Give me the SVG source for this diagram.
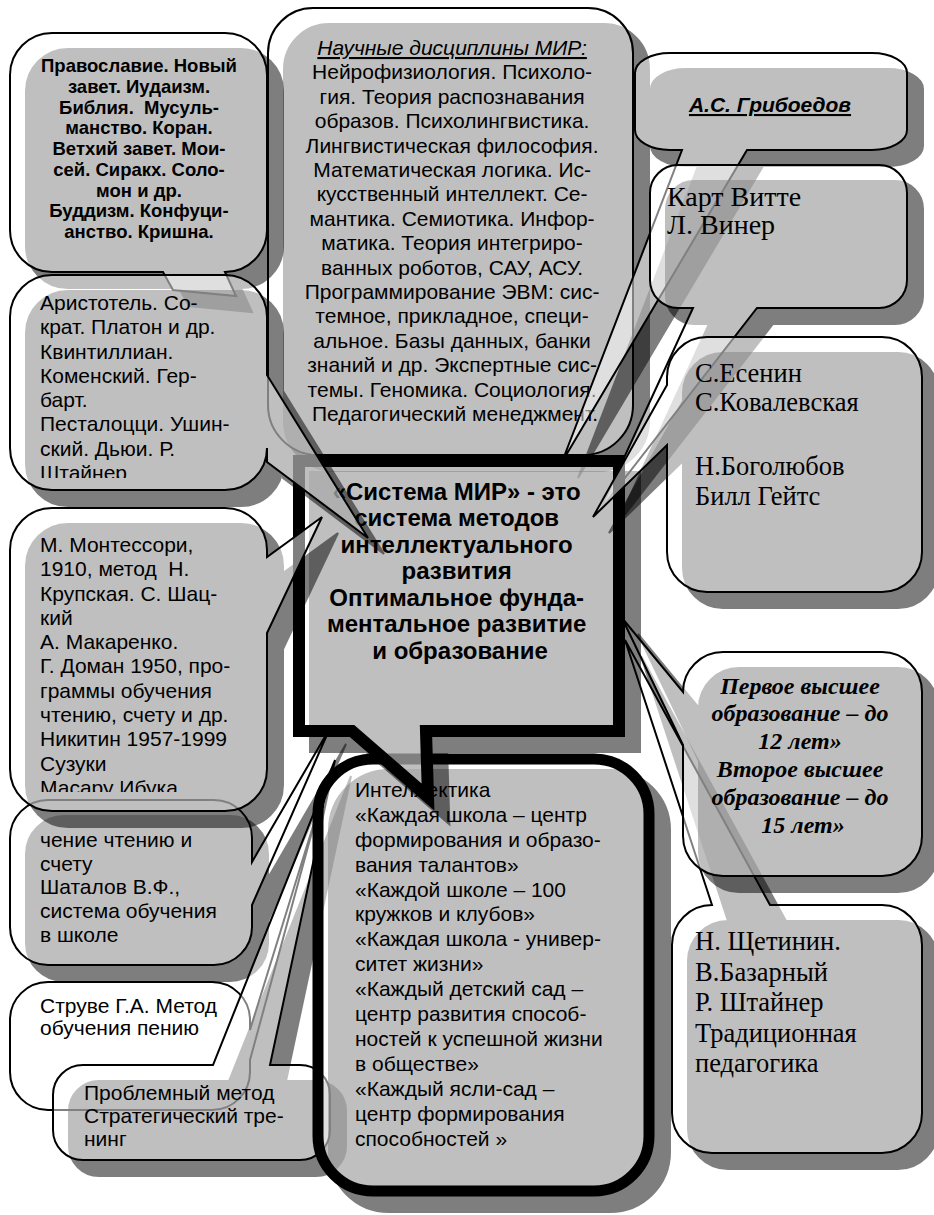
<svg xmlns="http://www.w3.org/2000/svg" xmlns:xlink="http://www.w3.org/1999/xlink" width="934" height="1215" viewBox="0 0 934 1215">
<style>
.sh{fill:#000;stroke:#000;stroke-width:2;opacity:.5}
.shT{fill:#000;stroke:#000;stroke-width:12;opacity:.5;stroke-linejoin:miter}
.bx{fill:#fff;fill-opacity:.5;stroke:#000;stroke-width:2;stroke-linejoin:miter}
.bxT{fill:#fff;fill-opacity:.5;stroke:#000;stroke-width:12;stroke-linejoin:miter}
.wh{fill:#fff;stroke:#000;stroke-width:2}
.a{font-family:"Liberation Sans",Arial,sans-serif;font-size:21px;fill:#000}
.ab{font-family:"Liberation Sans",Arial,sans-serif;font-weight:bold;fill:#000}
.tr{font-family:"Liberation Serif","Times New Roman",serif;font-size:26.5px;fill:#000}
.tbi{font-family:"Liberation Serif","Times New Roman",serif;font-size:24px;font-weight:bold;font-style:italic;fill:#000}
</style>
<defs>
<path id="pS" d="M313,8 H588 A45,45 0 0 1 633,53 V405 A50,50 0 0 1 583,455 H318 A50,50 0 0 1 268,405 V53 A45,45 0 0 1 313,8 Z"/>
<path id="pA" d="M52,33 H225 A42,42 0 0 1 267,75 V230 A42,42 0 0 1 225,272 L236,296 L173,290 L163,272 H52 A42,42 0 0 1 10,230 V75 A42,42 0 0 1 52,33 Z"/>
<path id="pB" d="M52,275 H225 A42,42 0 0 1 267,317 V375 L368,538 L267,462 V448 A42,42 0 0 1 225,490 H52 A42,42 0 0 1 10,448 V317 A42,42 0 0 1 52,275 Z"/>
<path id="pJ" d="M48,800 H214 A38,38 0 0 1 252,838 V862 L330,728 L252,905 V927 A38,38 0 0 1 214,965 H48 A38,38 0 0 1 10,927 V838 A38,38 0 0 1 48,800 Z"/>
<path id="pE" d="M52,508 H225 A42,42 0 0 1 267,550 V557 L322,517 L267,633 V769 A42,42 0 0 1 225,811 H52 A42,42 0 0 1 10,769 V550 A42,42 0 0 1 52,508 Z"/>
<path id="pV" d="M48,982 H212 A38,38 0 0 1 250,1020 V1030 L318,810 L250,1060 V1072 A38,38 0 0 1 212,1110 H48 A38,38 0 0 1 10,1072 V1020 A38,38 0 0 1 48,982 Z"/>
<path id="pK" d="M83,1065 H213 L335,760 L270,1065 H300 A30,30 0 0 1 330,1095 V1130 A30,30 0 0 1 300,1160 H83 A30,30 0 0 1 53,1130 V1095 A30,30 0 0 1 83,1065 Z"/>
<path id="pD" d="M373,759 H594 A55,55 0 0 1 649,814 V1136 A55,55 0 0 1 594,1191 H373 A55,55 0 0 1 318,1136 V814 A55,55 0 0 1 373,759 Z"/>
<path id="pG" d="M678,165 H879 A28,28 0 0 1 907,193 V280 A28,28 0 0 1 879,308 H757 L600,510 L693,308 H678 A28,28 0 0 1 650,280 V193 A28,28 0 0 1 678,165 Z"/>
<path id="pF" d="M670,53 H872 A35,20 0 0 1 907,73 V130 A35,20 0 0 1 872,150 H747 L562,462 L682,150 H670 A35,20 0 0 1 635,130 V73 A35,20 0 0 1 670,53 Z"/>
<path id="pH" d="M707,337 H882 A40,40 0 0 1 922,377 V552 A40,40 0 0 1 882,592 H707 A40,40 0 0 1 667,552 V445 L593,517 L667,385 V377 A40,40 0 0 1 707,337 Z"/>
<path id="pT" d="M712,905 L625,640 L770,905 H882 A40,40 0 0 1 922,945 V1113 A40,40 0 0 1 882,1153 H712 A40,40 0 0 1 672,1113 V945 A40,40 0 0 1 712,905 Z"/>
<path id="pI" d="M723,652 H882 A40,40 0 0 1 922,692 V836 A40,40 0 0 1 882,876 H723 A40,40 0 0 1 683,836 V745 L622,618 L683,692 A40,40 0 0 1 723,652 Z"/>
<path id="pC" d="M299,461 H619 V731 H426 L428,797 L352,731 H299 Z"/>
<clipPath id="cB"><rect x="0" y="280" width="300" height="198"/></clipPath>
<clipPath id="cE"><rect x="0" y="515" width="300" height="277"/></clipPath>
</defs>
<rect width="934" height="1215" fill="#fff"/>

<g id="science">
<use xlink:href="#pS" class="sh" transform="translate(16,16)"/>
<use xlink:href="#pS" class="bx"/>
<text class="a" text-anchor="middle">
<tspan x="455" y="55" font-style="italic" text-decoration="underline">Научные дисциплины МИР:</tspan>
<tspan x="455" y="79">Нейрофизиология. Психоло-</tspan>
<tspan x="455" y="104">гия. Теория распознавания</tspan>
<tspan x="455" y="128">образов. Психолингвистика.</tspan>
<tspan x="455" y="153">Лингвистическая философия.</tspan>
<tspan x="455" y="177">Математическая логика. Ис-</tspan>
<tspan x="455" y="201">кусственный интеллект. Се-</tspan>
<tspan x="455" y="226">мантика. Семиотика. Инфор-</tspan>
<tspan x="455" y="250">матика. Теория интегриро-</tspan>
<tspan x="455" y="275">ванных роботов, САУ, АСУ.</tspan>
<tspan x="455" y="299">Программирование ЭВМ: сис-</tspan>
<tspan x="455" y="323">темное, прикладное, специ-</tspan>
<tspan x="455" y="348">альное. Базы данных, банки</tspan>
<tspan x="455" y="372">знаний и др. Экспертные сис-</tspan>
<tspan x="455" y="397">темы. Геномика. Социология.</tspan>
<tspan x="455" y="421">Педагогический менеджмент.</tspan>
</text>
</g>

<g id="religion">
<use xlink:href="#pA" class="sh" transform="translate(16,16)"/>
<use xlink:href="#pA" class="bx"/>
<text class="ab" font-size="18.5" text-anchor="middle" xml:space="preserve"><tspan x="139" y="72">Православие. Новый</tspan><tspan x="139" y="93">завет. Иудаизм.</tspan><tspan x="139" y="114">Библия.  Мусуль-</tspan><tspan x="139" y="134">манство. Коран.</tspan><tspan x="139" y="155">Ветхий завет. Мои-</tspan><tspan x="139" y="176">сей. Сиракх. Соло-</tspan><tspan x="139" y="197">мон и др.</tspan><tspan x="139" y="217">Буддизм. Конфуци-</tspan><tspan x="139" y="238">анство. Кришна.</tspan></text>
</g>

<g id="griboedov">
<use xlink:href="#pF" class="sh" transform="translate(16,16)"/>
<use xlink:href="#pF" class="bx"/>
<text class="ab" font-size="21" font-style="italic" text-decoration="underline" text-anchor="middle" x="770" y="112">А.С. Грибоедов</text>
</g>

<g id="witte">
<use xlink:href="#pG" class="sh" transform="translate(16,16)"/>
<use xlink:href="#pG" class="bx"/>
<text class="tr" style="font-size:28px">
<tspan x="667" y="206">Карт Витте</tspan>
<tspan x="667" y="234">Л. Винер</tspan>
</text>
</g>

<g id="shatalov">
<use xlink:href="#pJ" class="sh" transform="translate(16,16)"/>
<use xlink:href="#pJ" class="bx"/>
<text class="a">
<tspan x="40" y="847">чение чтению и</tspan>
<tspan x="40" y="871">счету</tspan>
<tspan x="40" y="894">Шаталов В.Ф.,</tspan>
<tspan x="40" y="918">система обучения</tspan>
<tspan x="40" y="942">в школе</tspan>
</text>
</g>

<g id="struve">
<use xlink:href="#pV" class="wh"/>
<text class="a">
<tspan x="40" y="1013">Струве Г.А. Метод</tspan>
<tspan x="40" y="1035">обучения пению</tspan>
</text>
</g>

<g id="problem">
<use xlink:href="#pK" class="sh" transform="translate(16,16)"/>
<use xlink:href="#pK" class="bx"/>
<text class="a">
<tspan x="84" y="1100">Проблемный метод</tspan>
<tspan x="84" y="1123">Стратегический тре-</tspan>
<tspan x="84" y="1146">нинг</tspan>
</text>
</g>

<g id="intellectics">
<use xlink:href="#pD" class="shT" transform="translate(16,16)"/>
<use xlink:href="#pD" class="bxT" style="stroke-width:11"/>
<text class="a">
<tspan x="355" y="797">Интеллектика</tspan>
<tspan x="355" y="822">«Каждая школа – центр</tspan>
<tspan x="355" y="847">формирования и образо-</tspan>
<tspan x="355" y="872">вания талантов»</tspan>
<tspan x="355" y="897">«Каждой школе – 100</tspan>
<tspan x="355" y="921">кружков и клубов»</tspan>
<tspan x="355" y="946">«Каждая школа - универ-</tspan>
<tspan x="355" y="971">ситет жизни»</tspan>
<tspan x="355" y="996">«Каждый детский сад –</tspan>
<tspan x="355" y="1021">центр развития способ-</tspan>
<tspan x="355" y="1046">ностей к успешной жизни</tspan>
<tspan x="355" y="1071">в обществе»</tspan>
<tspan x="355" y="1096">«Каждый ясли-сад –</tspan>
<tspan x="355" y="1121">центр формирования</tspan>
<tspan x="355" y="1146">способностей »</tspan>
</text>
</g>

<g id="shchetinin">
<use xlink:href="#pT" class="sh" transform="translate(16,16)"/>
<use xlink:href="#pT" class="bx"/>
<text class="tr">
<tspan x="695" y="950">Н. Щетинин.</tspan>
<tspan x="695" y="981">В.Базарный</tspan>
<tspan x="695" y="1011">Р. Штайнер</tspan>
<tspan x="695" y="1042">Традиционная</tspan>
<tspan x="695" y="1072">педагогика</tspan>
</text>
</g>

<g id="higher-education">
<use xlink:href="#pI" class="sh" transform="translate(16,16)"/>
<use xlink:href="#pI" class="bx"/>
<text class="tbi" text-anchor="middle">
<tspan x="803" y="694">Первое высшее</tspan>
<tspan x="803" y="721">образование – до</tspan>
<tspan x="803" y="749">12 лет»</tspan>
<tspan x="803" y="777">Второе высшее</tspan>
<tspan x="803" y="805">образование – до</tspan>
<tspan x="803" y="833">15 лет»</tspan>
</text>
</g>

<g id="system-mir">
<use xlink:href="#pC" class="shT" transform="translate(16,16)"/>
<use xlink:href="#pC" class="bxT"/>
<text class="ab" font-size="24" text-anchor="middle">
<tspan x="460" y="500">«Система МИР» - это</tspan>
<tspan x="460" y="526">система методов</tspan>
<tspan x="460" y="553">интеллектуального</tspan>
<tspan x="460" y="579">развития</tspan>
<tspan x="460" y="606">Оптимальное фунда-</tspan>
<tspan x="460" y="632">ментальное развитие</tspan>
<tspan x="460" y="659">и образование</tspan>
</text>
</g>

<g id="philosophers">
<use xlink:href="#pB" class="sh" transform="translate(16,16)"/>
<use xlink:href="#pB" class="bx"/>
<text class="a" clip-path="url(#cB)">
<tspan x="40" y="310">Аристотель. Со-</tspan>
<tspan x="40" y="334">крат. Платон и др.</tspan>
<tspan x="40" y="359">Квинтиллиан.</tspan>
<tspan x="40" y="383">Коменский. Гер-</tspan>
<tspan x="40" y="407">барт.</tspan>
<tspan x="40" y="431">Песталоцци. Ушин-</tspan>
<tspan x="40" y="456">ский. Дьюи. Р.</tspan>
<tspan x="40" y="480">Штайнер</tspan>
</text>
</g>

<g id="montessori">
<use xlink:href="#pE" class="sh" transform="translate(16,16)"/>
<use xlink:href="#pE" class="bx"/>
<text class="a" clip-path="url(#cE)" xml:space="preserve"><tspan x="40" y="552">М. Монтессори,</tspan><tspan x="40" y="576">1910, метод  Н.</tspan><tspan x="40" y="601">Крупская. С. Шац-</tspan><tspan x="40" y="625">кий</tspan><tspan x="40" y="649">А. Макаренко.</tspan><tspan x="40" y="673">Г. Доман 1950, про-</tspan><tspan x="40" y="698">граммы обучения</tspan><tspan x="40" y="722">чтению, счету и др.</tspan><tspan x="40" y="746">Никитин 1957-1999</tspan><tspan x="40" y="771">Сузуки</tspan><tspan x="40" y="795">Масару Ибука</tspan></text>
</g>

<g id="esenin">
<use xlink:href="#pH" class="sh" transform="translate(16,16)"/>
<use xlink:href="#pH" class="bx"/>
<text class="tr">
<tspan x="695" y="382">С.Есенин</tspan>
<tspan x="695" y="411">С.Ковалевская</tspan>
<tspan x="695" y="475">Н.Боголюбов</tspan>
<tspan x="695" y="505">Билл Гейтс</tspan>
</text>
</g>

<g id="connectors"/>
</svg>
